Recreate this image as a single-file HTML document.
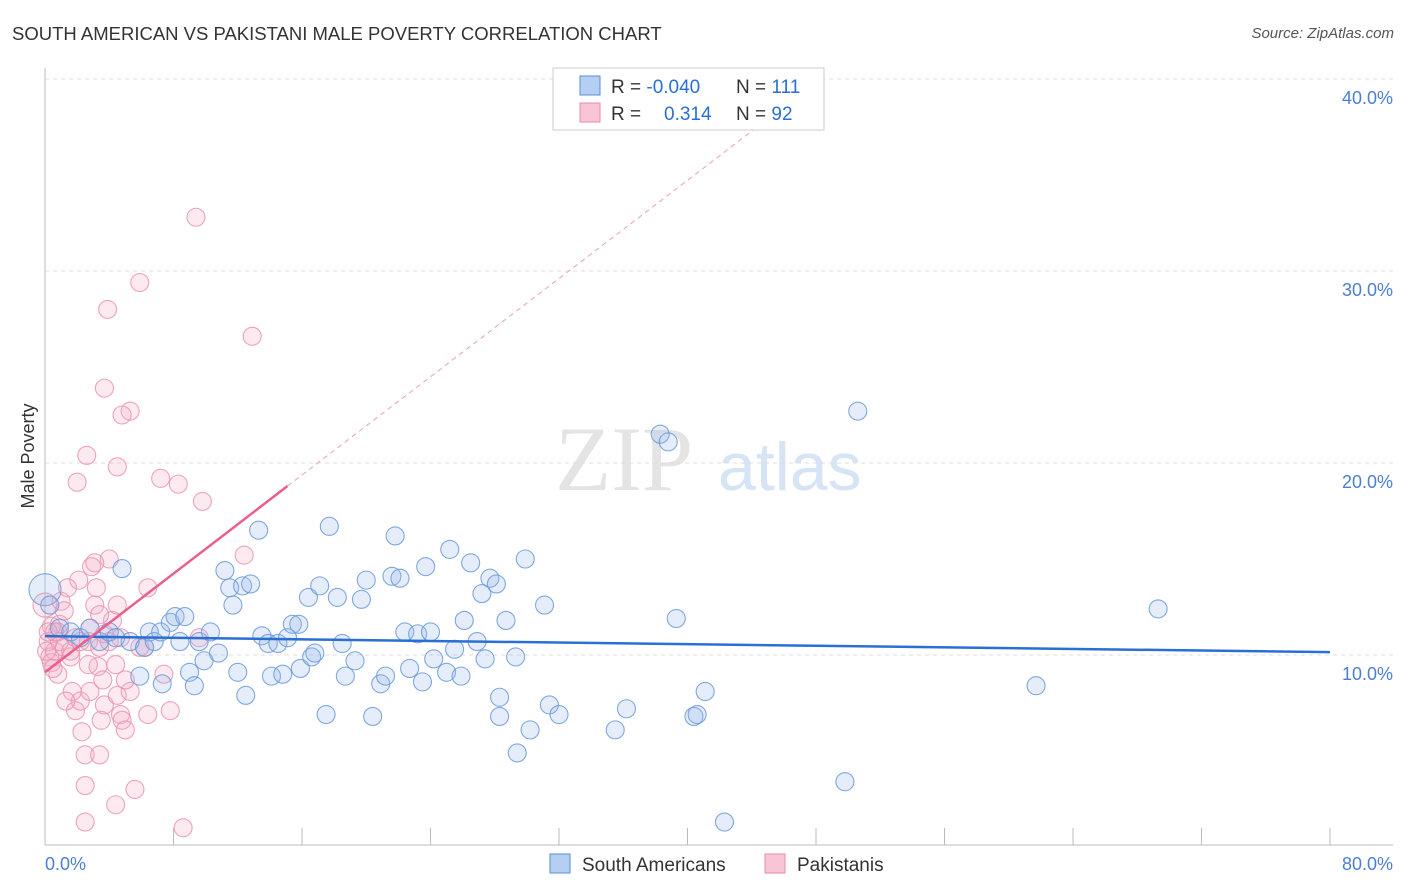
<!DOCTYPE html>
<html><head><meta charset="utf-8"><style>
body{margin:0;background:#fff;font-family:"Liberation Sans",sans-serif;}
#wrap{position:relative;width:1406px;height:892px;overflow:hidden}
.t{position:absolute;white-space:nowrap}
</style></head><body>
<div id="wrap">
<div class="t" style="left:12px;top:23px;font-size:18.5px;color:#333">SOUTH AMERICAN VS PAKISTANI MALE POVERTY CORRELATION CHART</div>
<div class="t" style="right:12px;top:25px;font-size:15px;color:#555;font-style:italic">Source: ZipAtlas.com</div>
<svg id="svg" width="1406" height="892" style="position:absolute;left:0;top:0"></svg>
</div>
<script>
const yTicks=[10,20,30,40];
const xTickLabels=["0.0%","80.0%"];
const blueX=[0,0.3,0.9,1.6,2.2,2.8,3.4,4.0,4.4,4.8,5.3,5.9,6.2,6.5,6.8,7.2,7.3,7.8,8.1,8.4,8.7,9.0,9.3,9.6,9.9,10.3,10.8,11.2,11.5,11.7,12.0,12.5,12.3,12.8,13.3,13.5,13.9,14.1,14.5,14.8,15.1,15.4,15.8,15.9,16.4,16.6,16.8,17.1,17.5,17.7,18.2,18.5,18.7,19.3,19.7,20.0,20.4,20.9,21.2,21.8,21.6,22.1,22.4,22.7,23.2,23.5,23.7,24.0,24.2,25.0,25.2,25.5,25.9,26.1,26.5,26.9,27.2,27.4,27.7,28.1,28.3,28.3,28.7,29.3,29.4,29.9,30.2,31.1,31.4,32.0,35.5,36.2,38.3,38.8,39.3,40.4,40.6,41.1,42.3,49.8,50.6,61.7,69.3];
const blueY=[13.4,12.6,11.4,11.2,10.9,11.4,10.7,11.2,10.9,14.5,10.7,8.9,10.4,11.2,10.7,11.2,8.5,11.7,12.0,10.7,12.0,9.1,8.4,10.7,9.7,11.2,10.1,14.4,13.5,12.6,9.1,7.9,13.6,13.7,16.5,11.0,10.6,8.9,10.6,9.0,10.9,11.6,11.6,9.3,13.0,9.9,10.1,13.6,6.9,16.7,13.0,10.6,8.9,9.7,12.9,13.9,6.8,8.5,8.9,16.2,14.1,14.0,11.2,9.3,11.1,8.6,14.6,11.2,9.8,9.1,15.5,10.3,8.9,11.8,14.8,10.7,13.2,9.8,14.0,13.7,7.8,6.8,11.8,9.9,4.9,15.0,6.1,12.6,7.4,6.9,6.1,7.2,21.5,21.1,11.9,6.8,6.9,8.1,1.3,3.4,22.7,8.4,12.4];
const pinkX=[0,0.2,0.3,0.4,0.6,0.8,0.9,1.0,1.2,1.4,1.6,1.7,1.9,2.1,2.2,2.3,2.5,2.5,2.5,2.7,2.8,2.9,3.1,3.2,3.3,3.4,3.4,3.5,3.7,3.7,3.9,4.0,4.0,4.2,4.4,4.4,4.5,4.5,4.7,4.8,5.0,5.3,5.6,5.9,6.2,6.4,6.4,7.2,7.4,7.8,8.3,8.6,9.4,9.6,9.8,12.4,12.9,5.3,4.8,4.5,2.6,2.0,0.9,0.6,0.8,1.3,1.6,1.9,3.4,3.7,3.6,3.1,4.7,5.0,5.9,2.8,2.7,1.2,0.4,0.1,0.2,0.5,2.2];
const pinkY=[12.6,10.7,9.9,9.6,10.2,11.2,10.7,12.8,10.4,13.5,9.9,8.1,7.1,13.9,7.6,6.0,4.8,3.2,1.3,10.7,8.1,14.6,12.6,13.5,9.4,10.4,4.8,6.6,7.4,23.9,28.0,15.0,10.7,11.8,9.5,2.2,12.6,7.9,6.9,6.6,6.1,8.1,3.0,29.4,10.4,13.5,6.9,19.2,9.0,7.1,18.9,1.0,32.8,10.9,18.0,15.2,26.6,22.7,22.5,19.8,20.4,19.0,11.6,11.2,9.0,7.6,10.2,10.9,12.1,11.1,8.7,14.8,10.9,8.7,10.4,11.4,9.5,12.3,11.5,10.2,11.2,9.3,10.7];
const NS="http://www.w3.org/2000/svg";
const svg=document.getElementById('svg');
const X0=45,X1=1330,Y0=847,PY=19.2;
const xs=v=>X0+(X1-X0)*v/80, ys=v=>Y0-PY*v;
function mk(tag,a){const e=document.createElementNS(NS,tag);for(const k in a)e.setAttribute(k,a[k]);svg.appendChild(e);return e;}
let w=mk('text',{x:555,y:490,'font-size':92,fill:'#e4e4e4','font-family':'Liberation Serif, serif'});w.textContent='ZIP';


w=mk('text',{x:718,y:490,'font-size':68,fill:'#d6e4f5','font-family':'Liberation Sans, sans-serif'});w.textContent='atlas';


yTicks.forEach(t=>{
 const l=mk('line',{x1:X0,x2:1393,y1:ys(t),y2:ys(t),stroke:'#ddd','stroke-dasharray':'4,4'});
 
 
 const tx=mk('text',{x:1393,y:ys(t)+25,'text-anchor':'end','font-size':18,fill:'#4a7fd4'});tx.textContent=t.toFixed(1)+'%';
 
 
});
mk('line',{x1:X0,x2:X0,y1:68,y2:845,stroke:'#bbb'});
mk('line',{x1:X0,x2:1393,y1:845,y2:845,stroke:'#bbb'});
for(let i=0;i<=10;i++){const x=X0+i*(X1-X0)/10;const l=mk('line',{x1:x,x2:x,y1:828,y2:845,stroke:'#bbb'});
 
 }
[[45,'start'],[1393,'end']].forEach((p,i)=>{const t=mk('text',{x:p[0],y:870,'text-anchor':p[1],'font-size':18,fill:'#4a7fd4'});t.textContent=xTickLabels[i];
 
 });
const yt=mk('text',{x:0,y:0,'font-size':18,fill:'#333','text-anchor':'middle',transform:'translate(34,456) rotate(-90)'});yt.textContent='Male Poverty';


function dots(X,Y,stroke,fill,name){X.forEach((x,i)=>{const r=(i===0)?(name==='blue-point'?16:12):9;
 const c=mk('circle',{cx:xs(x),cy:ys(Y[i]),r:r,fill:fill,stroke:stroke,'stroke-width':1.1,'stroke-opacity':0.85});
 
 });}
dots(pinkX,pinkY,'#eb93b2','rgba(245,170,195,0.25)','pink-point');
dots(blueX,blueY,'#6a9ad9','rgba(150,185,235,0.25)','blue-point');
let l=mk('line',{x1:xs(0),y1:ys(10.98),x2:xs(80),y2:ys(10.15),stroke:'#2a6fd4','stroke-width':2.5});


l=mk('line',{x1:xs(15.1),y1:ys(18.8),x2:xs(44.5),y2:ys(37.6),stroke:'#e8a0b8','stroke-width':1,'stroke-dasharray':'5,4'});


l=mk('line',{x1:xs(0),y1:ys(9.1),x2:xs(15.1),y2:ys(18.8),stroke:'#e8608c','stroke-width':2.5});


const lg=mk('rect',{x:553,y:68,width:271,height:62,fill:'#fff',stroke:'#ccc'});


[[76,'#b5cff3','#5b8fd6','-0.040','111'],[103,'#f8c5d6','#e88aaa','0.314','92']].forEach((r,i)=>{
 const s=mk('rect',{x:580,y:r[0],width:20,height:19,fill:r[1],stroke:r[2]});
 
 
 let t=mk('text',{x:611,y:r[0]+17,'font-size':19,fill:'#333'});t.innerHTML='R = <tspan fill="#2a6fd4">'+r[3]+'</tspan>';
 
 
 if(i)t.firstElementChild.setAttribute('x',664);
 t=mk('text',{x:736,y:r[0]+17,'font-size':19,fill:'#333'});t.innerHTML='N = <tspan fill="#2a6fd4">'+r[4]+'</tspan>';
 
 
});
[[550,'#b5cff3','#5b8fd6','South Americans'],[765,'#f8c5d6','#e88aaa','Pakistanis']].forEach(r=>{
 const s=mk('rect',{x:r[0],y:854,width:20,height:19,fill:r[1],stroke:r[2]});
 
 
 const t=mk('text',{x:r[0]+32,y:871,'font-size':19,fill:'#333'});t.textContent=r[3];
 
 
});
</script>
</body></html>
